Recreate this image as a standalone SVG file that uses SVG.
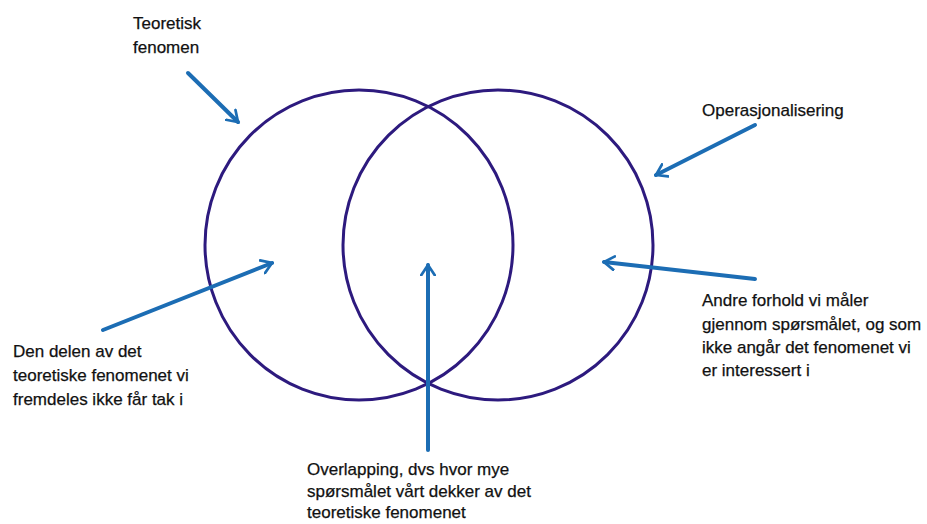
<svg xmlns="http://www.w3.org/2000/svg" width="927" height="524" viewBox="0 0 927 524">
<style>
.ring{fill:none;stroke:#2d1a7e;stroke-width:3}
.arr{fill:none;stroke:#1c6db4;stroke-width:4;stroke-linecap:round;marker-end:url(#head)}
.lbl{font-family:"Liberation Sans",Arial,sans-serif;font-size:17px;fill:#111;stroke:#111;stroke-width:0.25}
</style>
<defs>
<marker id="head" viewBox="0 0 12 14" refX="10" refY="7" markerWidth="3.4" markerHeight="4" orient="auto" markerUnits="strokeWidth">
<path d="M1,1 L10,7 L1,13" fill="none" stroke="#1c6db4" stroke-width="2.4" stroke-linecap="round" stroke-linejoin="miter"/>
</marker>
</defs>
<rect width="927" height="524" fill="#fff"/>
<g id="theory">
<ellipse class="ring" cx="359" cy="245" rx="154" ry="155"/>
</g>
<g id="operationalisation">
<ellipse class="ring" cx="498" cy="245" rx="155" ry="155"/>
</g>
<g id="connectors">
<line class="arr" x1="188" y1="73" x2="238" y2="122"/>
<line class="arr" x1="755" y1="125" x2="656" y2="175"/>
<line class="arr" x1="103" y1="330" x2="272" y2="263"/>
<line class="arr" x1="755" y1="279" x2="604" y2="262"/>
<line class="arr" x1="428" y1="450" x2="428" y2="265"/>
</g>
<g id="label-theory">
<text class="lbl" x="133" y="29">Teoretisk</text>
<text class="lbl" x="133" y="53">fenomen</text>
</g>
<g id="label-operasjonalisering">
<text class="lbl" x="702" y="116">Operasjonalisering</text>
</g>
<g id="label-left">
<text class="lbl" x="13" y="357">Den delen av det</text>
<text class="lbl" x="13" y="381">teoretiske fenomenet vi</text>
<text class="lbl" x="13" y="405">fremdeles ikke får tak i</text>
</g>
<g id="label-right">
<text class="lbl" x="702" y="306">Andre forhold vi måler</text>
<text class="lbl" x="702" y="330">gjennom spørsmålet, og som</text>
<text class="lbl" x="702" y="353">ikke angår det fenomenet vi</text>
<text class="lbl" x="702" y="376">er interessert i</text>
</g>
<g id="label-bottom">
<text class="lbl" x="307" y="475">Overlapping, dvs hvor mye</text>
<text class="lbl" x="307" y="497">spørsmålet vårt dekker av det</text>
<text class="lbl" x="307" y="518">teoretiske fenomenet</text>
</g>
</svg>
